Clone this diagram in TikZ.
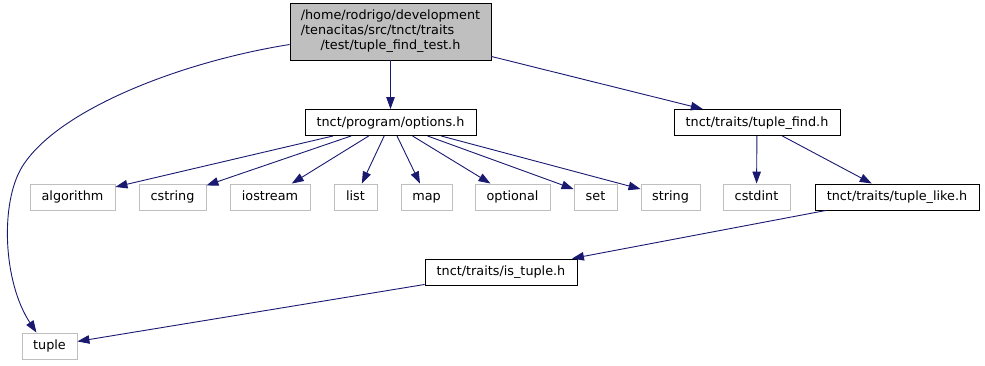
\documentclass[tikz,border=0pt]{standalone}
\usepackage{fontspec}
\setmainfont{DejaVu Sans}
\usetikzlibrary{
        arrows.meta,
    }
\definecolor{edgeblue}{HTML}{191970}
\definecolor{boxgray}{HTML}{BFBFBF}

\begin{document}
\begin{tikzpicture}[x=1pt,y=-1pt,font=\fontsize{12.8}{15}\selectfont,
        hdr/.style={draw=black,line width=0.9pt,minimum height=26pt,inner sep=0pt,text height=9.6pt,text depth=2.6pt},
        sys/.style={hdr,draw=boxgray},
        dep/.style={-{Triangle[length=12pt,width=8.5pt]},draw=edgeblue,fill=none,line width=0.9pt}]
        \useasboundingbox (0,0) rectangle (985,365);
        \node[draw=black,line width=0.9pt,inner sep=0pt,fill=boxgray,align=center,minimum width=201pt,minimum height=57pt] (test) at (390.5,31.5)
            {/home/rodrigo/development\\\rlap{/tenacitas/src/tnct/traits}\phantom{/home/rodrigo/development}\\/test/tuple\_find\_test.h};
        \node[hdr,minimum width=171pt] (options) at (390.5,122.5) {tnct/program/options.h};
        \node[hdr,minimum width=166pt] (tuplefind) at (757,122.5) {tnct/traits/tuple\_find.h};
        \node[sys,minimum width=85pt] (algorithm) at (72.5,197) {algorithm};
        \node[sys,minimum width=67pt] (cstring) at (172.5,197) {cstring};
        \node[sys,minimum width=80pt] (iostream) at (270,197) {iostream};
        \node[sys,minimum width=43pt] (list) at (355.5,197) {list};
        \node[sys,minimum width=51pt] (map) at (426.5,197) {map};
        \node[sys,minimum width=75pt] (optional) at (512.5,197) {optional};
        \node[sys,minimum width=43pt] (set) at (595.5,197) {set};
        \node[sys,minimum width=59pt] (string) at (670.5,197) {string};
        \node[sys,minimum width=67pt] (cstdint) at (756.5,197) {cstdint};
        \node[hdr,minimum width=164pt] (tuplelike) at (897,197) {tnct/traits/tuple\_like.h};
        \node[hdr,minimum width=152pt] (istuple) at (501,272) {tnct/traits/is\_tuple.h};
        \node[sys,minimum width=55pt] (tuple) at (49.5,346) {tuple};
        \draw[dep] (test) -- (options);
        \draw[dep] (test) -- (tuplefind);
        \draw[dep] ([yshift=-13pt]test.west) .. controls (180,62) and (57,110) .. (22,167)
            .. controls (0,203) and (3,282) .. ([xshift=-13pt]tuple.north);
        \foreach \hdrname in {algorithm,cstring,iostream,list,map,optional,set,string}
            \draw[dep] (options) -- (\hdrname);
        \draw[dep] (tuplefind) -- (cstdint);
        \draw[dep] (tuplefind) -- (tuplelike);
        \draw[dep] (tuplelike) -- (istuple);
        \draw[dep] (istuple) -- (tuple);
    \end{tikzpicture}
\end{document}
